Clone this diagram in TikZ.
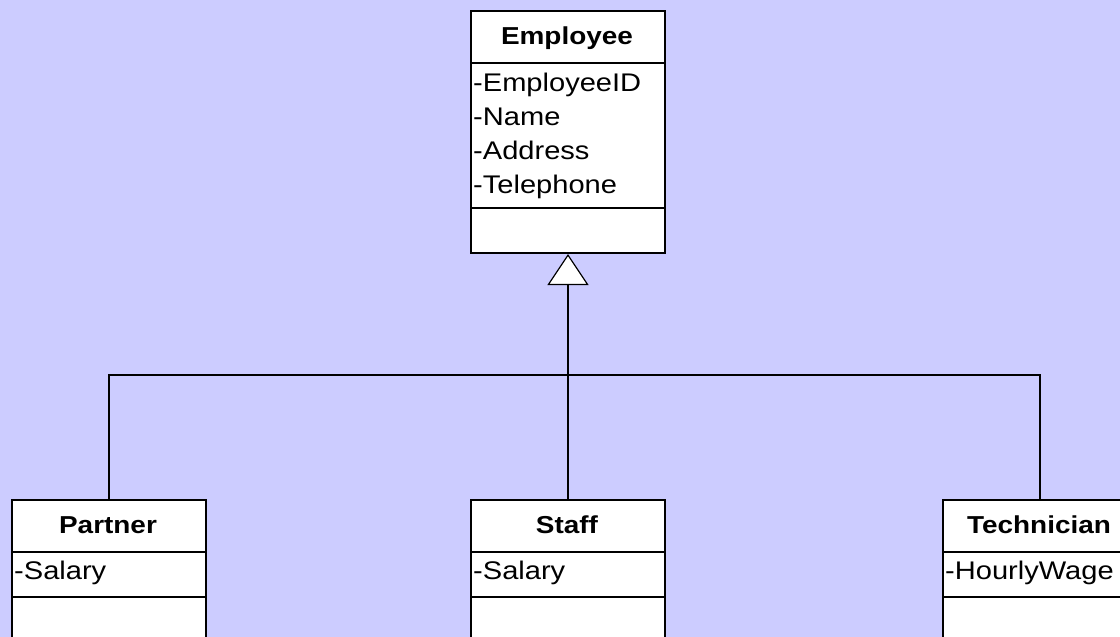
\documentclass[tikz,border=0pt]{standalone}
\usepackage{fontspec}
\setmainfont{Liberation Sans}[FakeStretch=1.14]
\usetikzlibrary{arrows.meta}
\definecolor{bg}{HTML}{CCCCFF}
\begin{document}
\begin{tikzpicture}[x=1pt,y=-1pt,
  comp/.style={draw=black, line width=2pt, fill=white, minimum width=194pt, inner sep=0pt, anchor=north west},
  ttl/.style={font=\fontsize{24.5}{30}\selectfont\bfseries, anchor=base, inner sep=0pt},
  attr/.style={font=\fontsize{25.5}{34}\selectfont, anchor=base west, inner sep=0pt},
  conn/.style={draw=black, line width=1.2pt}]
\fill[bg] (0,0) rectangle (1120,637);
\useasboundingbox (0,0) rectangle (1120,637);

% Employee
\node[comp, minimum height=52pt] (emp-t) at (470,10) {};
\node[comp, minimum height=145pt] (emp-a) at (470,62) {};
\node[comp, minimum height=45pt] (emp-o) at (470,207) {};
\node[ttl] (emp-name) at (567,45) {Employee};
\node[attr] (emp-1) at (473,91) {-EmployeeID};
\node[attr] (emp-2) at (473,125) {-Name};
\node[attr] (emp-3) at (473,159) {-Address};
\node[attr] (emp-4) at (473,193) {-Telephone};

% Partner
\node[comp, minimum height=52pt] (par-t) at (11,499) {};
\node[comp, minimum height=45pt] (par-a) at (11,551) {};
\node[comp, minimum height=45pt] (par-o) at (11,596) {};
\node[ttl] (par-name) at (108,533) {Partner};
\node[attr] (par-1) at (14,579) {-Salary};

% Staff
\node[comp, minimum height=52pt] (sta-t) at (470,499) {};
\node[comp, minimum height=45pt] (sta-a) at (470,551) {};
\node[comp, minimum height=45pt] (sta-o) at (470,596) {};
\node[ttl] (sta-name) at (567,533) {Staff};
\node[attr] (sta-1) at (473,579) {-Salary};

% Technician
\node[comp, minimum height=52pt] (tec-t) at (942,499) {};
\node[comp, minimum height=45pt] (tec-a) at (942,551) {};
\node[comp, minimum height=45pt] (tec-o) at (942,596) {};
\node[ttl] (tec-name) at (1039,533) {Technician};
\node[attr] (tec-1) at (945,579) {-HourlyWage};

% Generalization
\coordinate (j) at (567,375);
\draw[conn, -{Triangle[open, length=31pt, width=41pt, fill=white, line width=1.2pt]}] (sta-t.north) -- (emp-o.south);
\draw[conn] (par-t.north) -- (par-t.north |- j) -- (tec-t.north |- j) -- (tec-t.north);
\end{tikzpicture}
\end{document}
